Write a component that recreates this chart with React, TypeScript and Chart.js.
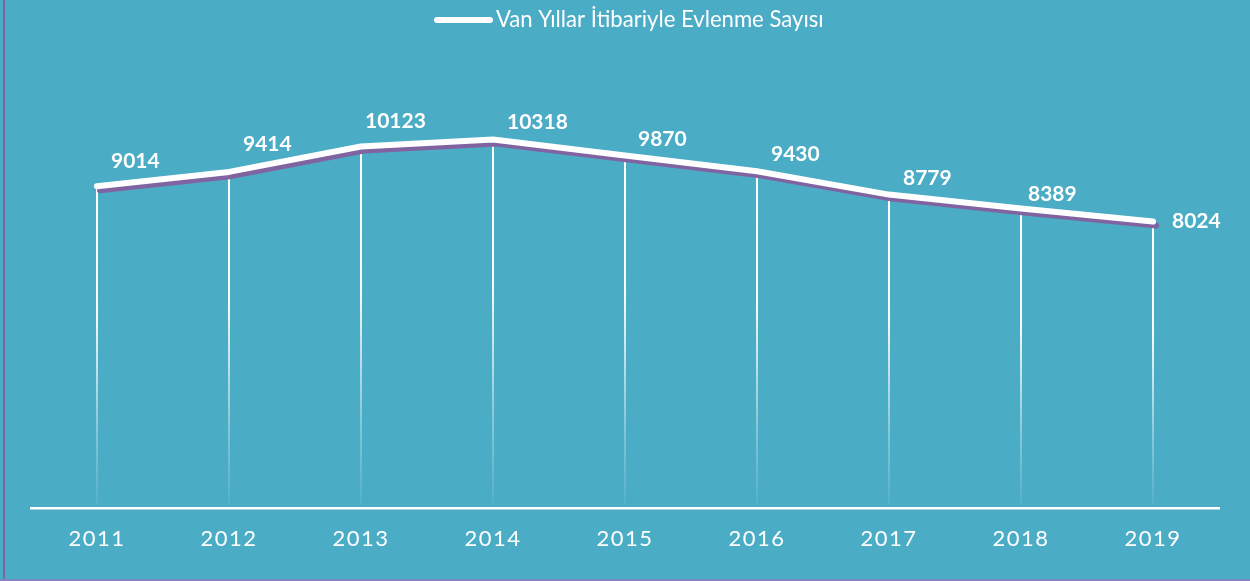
import React, { useEffect, useRef } from 'react';
import { Chart, registerables } from 'chart.js';

Chart.register(...registerables);

// ---- data ----
const years = ['2011', '2012', '2013', '2014', '2015', '2016', '2017', '2018', '2019'];
const marriages = [9014, 9414, 10123, 10318, 9870, 9430, 8779, 8389, 8024];
const seriesName = 'Van Yıllar İtibariyle Evlenme Sayısı';
const yMin = 0;
const yMax = 12000;

// ---- style (label placement offsets, px) ----
const labelDx = [14, 14, 4, 14, 13, 14, 14, 7, 19];
const labelDy = [-25, -28, -25, -17, -16, -17, -16, -14, 0];

const BG = '#4BACC6';
const PURPLE = '#8064A2';
const WHITE = '#FFFFFF';

const chromePlugin = {
  id: 'chrome',
  beforeDraw(chart: any) {
    const ctx = chart.ctx as CanvasRenderingContext2D;
    const w = chart.width;
    const h = chart.height;
    ctx.save();
    ctx.fillStyle = BG;
    ctx.fillRect(0, 0, w, h);
    ctx.fillStyle = PURPLE;
    ctx.fillRect(3, 0, 2, h);
    ctx.fillStyle = '#7E86C8';
    ctx.fillRect(0, h - 2, w, 2);

    // legend
    const lx0 = 437, lx1 = 490, ly = 20;
    ctx.strokeStyle = WHITE;
    ctx.lineWidth = 6;
    ctx.lineCap = 'round';
    ctx.beginPath();
    ctx.moveTo(lx0, ly);
    ctx.lineTo(lx1, ly);
    ctx.stroke();
    let size = 20;
    ctx.font = `${size}px Lato`;
    const mw = ctx.measureText(seriesName).width;
    size = Math.max(14, Math.min(24, size * 328 / mw));
    ctx.font = `${size}px Lato`;
    ctx.fillStyle = WHITE;
    ctx.textAlign = 'left';
    ctx.textBaseline = 'alphabetic';
    ctx.fillText(seriesName, 496, 27);
    ctx.restore();

    // letter spacing for axis tick labels (scales draw before datasets)
    (ctx as any).letterSpacing = '1.5px';
  },
  beforeDatasetsDraw(chart: any) {
    const ctx = chart.ctx as CanvasRenderingContext2D;
    (ctx as any).letterSpacing = '0px';
    const meta = chart.getDatasetMeta(0);
    const bottom = chart.chartArea.bottom - 3;
    ctx.save();
    meta.data.forEach((pt: any) => {
      const g = ctx.createLinearGradient(0, pt.y, 0, bottom);
      g.addColorStop(0, 'rgba(255,255,255,1)');
      g.addColorStop(0.4, 'rgba(255,255,255,0.95)');
      g.addColorStop(0.75, 'rgba(255,255,255,0.35)');
      g.addColorStop(1, 'rgba(255,255,255,0.05)');
      ctx.strokeStyle = g;
      ctx.lineWidth = 2;
      ctx.beginPath();
      ctx.moveTo(pt.x, pt.y);
      ctx.lineTo(pt.x, bottom);
      ctx.stroke();
    });
    ctx.restore();
  },
  beforeDatasetDraw(chart: any) {
    const ctx = chart.ctx as CanvasRenderingContext2D;
    ctx.save();
    ctx.shadowColor = PURPLE;
    ctx.shadowOffsetX = 3;
    ctx.shadowOffsetY = 4;
    ctx.shadowBlur = 0;
  },
  afterDatasetDraw(chart: any) {
    chart.ctx.restore();
  },
  afterDatasetsDraw(chart: any) {
    const ctx = chart.ctx as CanvasRenderingContext2D;
    const meta = chart.getDatasetMeta(0);
    ctx.save();
    ctx.font = 'bold 21px Lato';
    ctx.fillStyle = WHITE;
    ctx.textAlign = 'left';
    ctx.textBaseline = 'middle';
    meta.data.forEach((pt: any, i: number) => {
      ctx.fillText(String(marriages[i]), pt.x + labelDx[i], pt.y + labelDy[i]);
    });
    ctx.restore();
  },
};

export default function App() {
  const ref = useRef<HTMLCanvasElement | null>(null);
  useEffect(() => {
    document.body.style.margin = '0';
    if (!ref.current) return;
    const chart = new Chart(ref.current, {
      type: 'line',
      data: {
        labels: years,
        datasets: [
          {
            label: seriesName,
            data: marriages,
            borderColor: WHITE,
            borderWidth: 6,
            borderCapStyle: 'round',
            borderJoinStyle: 'round',
            pointRadius: 0,
            pointHoverRadius: 0,
            tension: 0,
            fill: false,
          },
        ],
      },
      options: {
        animation: false,
        responsive: false,
        maintainAspectRatio: false,
        events: [],
        layout: { padding: { left: 31, right: 31, top: 79.4, bottom: 12 } },
        plugins: {
          legend: { display: false },
          tooltip: { enabled: false },
          title: { display: false },
        },
        scales: {
          x: {
            offset: true,
            grid: { display: false, drawTicks: false, tickLength: 0 },
            border: { display: true, color: WHITE, width: 2.5 },
            ticks: {
              color: WHITE,
              font: { family: 'Lato', size: 22 },
              padding: 17,
              maxRotation: 0,
              autoSkip: false,
            },
          },
          y: {
            display: false,
            min: yMin,
            max: yMax,
          },
        },
      },
      plugins: [chromePlugin],
    });
    return () => chart.destroy();
  }, []);
  return (
    <div style={{ position: 'absolute', left: 0, top: 0, width: 1250, height: 581, background: BG }}>
      <canvas ref={ref} width={1250} height={581} style={{ display: 'block', width: 1250, height: 581 }} />
    </div>
  );
}
